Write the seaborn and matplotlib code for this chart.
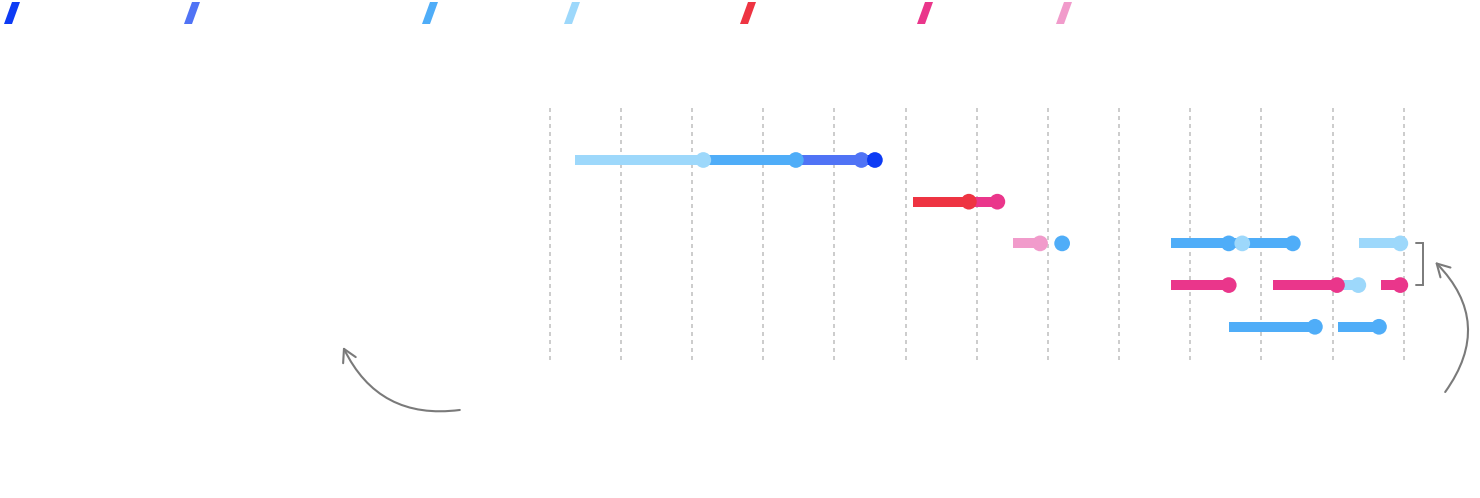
import numpy as np
import pandas as pd
import matplotlib
matplotlib.use("Agg")
import matplotlib.pyplot as plt
from matplotlib.patches import Polygon
import seaborn as sns

# series and colours (legend order)
series = ["A", "B", "C", "D", "E", "F", "G"]
colors = ["#0d3bf4", "#5073f5", "#4fadf8", "#9dd8fb", "#ee3442", "#ea368b", "#f19bcb"]

# timeline segments: row, start, end, series (dot drawn at end)
seg_row = [0, 0, 0, 0,
           1, 1,
           2, 2, 2, 2, 2, 2,
           3, 3, 3, 3,
           4, 4]
seg_start = [2012.36, 2014.16, 2015.46, 2016.38,
             2017.11, 2017.89,
             2018.51, 2019.20, 2020.73, 2021.54, 2021.54, 2023.37,
             2020.73, 2022.16, 2023.06, 2023.68,
             2021.54, 2023.07]
seg_end = [2014.16, 2015.46, 2016.38, 2016.57,
           2017.89, 2018.29,
           2018.89, 2019.20, 2021.54, 2021.73, 2022.44, 2023.95,
           2021.54, 2023.06, 2023.36, 2023.95,
           2022.75, 2023.65]
seg_series = ["D", "C", "B", "A",
              "E", "F",
              "G", "C", "C", "D", "C", "D",
              "F", "F", "D", "F",
              "C", "C"]

years = list(range(2012, 2025))

df = pd.DataFrame({"row": seg_row, "start": seg_start, "end": seg_end, "series": seg_series})
pal = dict(zip(series, colors))

sns.set_theme(style="white")
fig = plt.figure(figsize=(14.8, 4.98), dpi=100)
ax = fig.add_axes([0, 0, 1, 1])

# dashed year gridlines
ax.vlines(years, -1.247, 4.796, colors="#c4c4c4", linewidth=1.2,
          linestyles=(0, (2.4, 2.4)), zorder=0)

# segment lines
for _, r in df.iterrows():
    ax.hlines(r["row"], r["start"], r["end"], colors=pal[r["series"]],
              linewidth=7.2, zorder=2, capstyle="butt")

# end dots
sns.scatterplot(data=df, x="end", y="row", hue="series", palette=pal,
                s=128, linewidth=0, legend=False, ax=ax, zorder=3)
ax.set_xlim(2004.282, 2025.069)
ax.set_ylim(8.106, -3.837)
ax.axis("off")

# bracket grouping rows 2 and 3
bx0, bx1 = 2024.17, 2024.27
ax.plot([bx0, bx1, bx1, bx0], [2, 2, 3, 3], color="#7a7a7a", linewidth=1.4,
        solid_joinstyle="miter")

# curved arrows
ax.annotate("", xy=(2024.44, 2.446), xytext=(2024.58, 5.564),
            arrowprops=dict(arrowstyle="->,head_length=0.75,head_width=0.42",
                            connectionstyle="arc3,rad=0.42", color="#7a7a7a",
                            linewidth=1.5, shrinkA=0, shrinkB=0))
ax.annotate("", xy=(2009.10, 4.484), xytext=(2010.74, 5.995),
            arrowprops=dict(arrowstyle="->,head_length=0.75,head_width=0.42",
                            connectionstyle="arc3,rad=-0.36", color="#7a7a7a",
                            linewidth=1.5, shrinkA=0, shrinkB=0))

# legend swatches (slanted bars)
lax = fig.add_axes([0, 0, 1, 1])
lax.set_xlim(0, 1480)
lax.set_ylim(498, 0)
lax.axis("off")
sw_x = [4, 184, 422, 564, 740, 917, 1056]
for x0, c in zip(sw_x, colors):
    lax.add_patch(Polygon([(x0, 24), (x0 + 8, 24), (x0 + 16, 2), (x0 + 8, 2)],
                          closed=True, facecolor=c, edgecolor="none"))

fig.savefig("out.png", dpi=100)
